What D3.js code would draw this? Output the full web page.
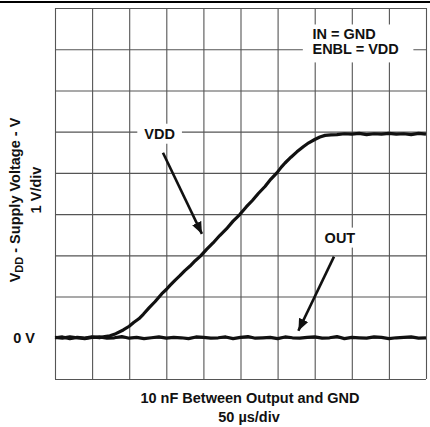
<!DOCTYPE html>
<html>
<head>
<meta charset="utf-8">
<script src="https://cdn.jsdelivr.net/npm/d3@7"></script>
<style>
  body { margin: 0; background: #fff; }
  text { font-family: "Liberation Sans", Arial, sans-serif; font-weight: bold; fill: #111; }
</style>
</head>
<body>
<svg id="chart" width="430" height="427"></svg>
<script>
// 50 us/div across, 1 V/div up
const timeTicks = [0, 50, 100, 150, 200, 250, 300, 350, 400, 450, 500];
const voltTicks = [-1, 0, 1, 2, 3, 4, 5, 6, 7, 8];

const vddTime = [0, 10, 20, 30, 40, 50, 60, 67, 74, 82, 92, 100, 106, 113, 119, 127, 135, 144, 150, 155,
                 162, 168, 175, 182, 189, 196, 204, 213, 222, 231, 240, 249, 258, 266, 274, 283, 291, 299,
                 305, 310, 318, 326, 335, 342, 350, 357, 364, 372, 380, 390, 400, 410, 420, 430, 440, 450,
                 460, 470, 480, 490, 500];
const vddVolts = [0.00, 0.02, -0.02, 0.01, -0.01, 0.02, 0.00, 0.03, 0.05, 0.10, 0.19, 0.28, 0.37, 0.46, 0.57,
                  0.73, 0.88, 1.07, 1.17, 1.27, 1.40, 1.50, 1.63, 1.74, 1.87, 1.98, 2.14, 2.30, 2.48, 2.64,
                  2.83, 2.99, 3.18, 3.33, 3.50, 3.67, 3.85, 4.00, 4.14, 4.24, 4.38, 4.51, 4.64, 4.73, 4.81,
                  4.87, 4.91, 4.92, 4.93, 4.95, 4.94, 4.96, 4.93, 4.95, 4.94, 4.96, 4.94, 4.95, 4.93, 4.96, 4.94];

const outTime = [0, 10, 20, 30, 40, 50, 60, 70, 80, 90, 100, 110, 120, 130, 140, 150, 160, 170, 180, 190,
                 200, 210, 220, 230, 240, 250, 260, 270, 280, 290, 300, 310, 320, 330, 340, 350, 360, 370,
                 380, 390, 400, 410, 420, 430, 440, 450, 460, 470, 480, 490, 500];
const outVolts = [0.01, -0.01, 0.02, 0.00, -0.02, 0.01, 0.02, -0.01, 0.00, 0.03, -0.01, 0.01, -0.02, 0.00,
                  0.02, -0.01, 0.01, 0.00, -0.02, 0.02, 0.01, -0.01, 0.00, 0.02, -0.02, 0.01, 0.03, -0.01,
                  0.00, 0.01, -0.02, 0.02, 0.00, -0.01, 0.01, 0.02, -0.01, 0.00, 0.03, -0.02, 0.01, 0.00,
                  -0.01, 0.02, 0.01, -0.02, 0.00, 0.01, 0.02, -0.01, 0.00];

const conditions = ["IN = GND", "ENBL = VDD"];

let zip = (xs, ys) => xs.map((x, i) => ({t: x, v: ys[i]}));

const svg = d3.select("#chart");
const m = {top: 8, left: 55, right: 4, bottom: 48};
const W = +svg.attr("width"), H = +svg.attr("height");
const fs = "14.5px";

const x = d3.scaleLinear().domain([0, 500]).range([m.left, W - m.right]);
const y = d3.scaleLinear().domain([-1, 8]).range([H - m.bottom, m.top]);

// rule across the top of the page
svg.append("line")
    .attr("x1", 0).attr("x2", W)
    .attr("y1", 2).attr("y2", 2)
    .attr("stroke", "#000").attr("stroke-width", 2);

// grid
svg.append("g")
    .attr("transform", `translate(0, ${y(-1)})`)
    .call(d3.axisBottom(x).tickValues(timeTicks).tickSize(-(y(-1) - y(8))).tickFormat(""))
    .call(g => g.select(".domain").remove())
    .selectAll("line").attr("stroke", "#555").attr("stroke-width", 1.1);

svg.append("g")
    .attr("transform", `translate(${x(0)}, 0)`)
    .call(d3.axisLeft(y).tickValues(voltTicks).tickSize(-(x(500) - x(0))).tickFormat(""))
    .call(g => g.select(".domain").remove())
    .selectAll("line").attr("stroke", "#555").attr("stroke-width", 1.1);

// traces
const line = d3.line().x(d => x(d.t)).y(d => y(d.v));

svg.append("path")
    .attr("d", line(zip(outTime, outVolts)))
    .attr("fill", "none").attr("stroke", "#111")
    .attr("stroke-width", 3.2).attr("stroke-linejoin", "round");

svg.append("path")
    .attr("d", line(zip(vddTime, vddVolts)))
    .attr("fill", "none").attr("stroke", "#111")
    .attr("stroke-width", 3.2).attr("stroke-linejoin", "round");

// arrows
svg.append("defs").append("marker")
    .attr("id", "head")
    .attr("markerUnits", "userSpaceOnUse")
    .attr("viewBox", "0 0 12 10")
    .attr("refX", 12).attr("refY", 5)
    .attr("markerWidth", 12).attr("markerHeight", 10)
    .attr("orient", "auto")
  .append("path")
    .attr("d", "M0,0 L12,5 L0,10 Z")
    .attr("fill", "#111");

let arrow = (t1, v1, t2, v2) => svg.append("line")
    .attr("x1", x(t1)).attr("y1", y(v1))
    .attr("x2", x(t2)).attr("y2", y(v2))
    .attr("stroke", "#111").attr("stroke-width", 2.6)
    .attr("marker-end", "url(#head)");

let label = (txt, t, v, pad) => {
    const g = svg.append("g");
    const tx = g.append("text")
	  .attr("x", x(t)).attr("y", y(v))
	  .attr("text-anchor", "middle")
	  .attr("dominant-baseline", "central")
	  .style("font-size", fs)
	  .text(txt);
    const b = tx.node().getBBox();
    g.insert("rect", "text")
	.attr("x", b.x - pad).attr("y", b.y - 2)
	.attr("width", b.width + 2 * pad).attr("height", b.height + 4)
	.attr("fill", "#fff");
};

label("VDD", 141, 4.95, 7);
arrow(145.5, 4.49, 198, 2.52);

label("OUT", 384, 2.43, 5);
arrow(376, 1.97, 328, 0.17);

// condition box
const cond = svg.append("g");
cond.append("rect")
    .attr("x", x(334)).attr("y", y(7.6))
    .attr("width", x(483) - x(334)).attr("height", y(6.68) - y(7.6))
    .attr("fill", "#fff");
cond.selectAll("text").data(conditions)
    .enter().append("text")
    .attr("x", x(347))
    .attr("y", (d, i) => y(7.24) + i * 14.5)
    .style("font-size", fs)
    .text(d => d);

// axis texts
svg.append("text")
    .attr("x", 35).attr("y", y(0))
    .attr("text-anchor", "end")
    .attr("dominant-baseline", "central")
    .style("font-size", fs)
    .text("0 V");

const yt = svg.append("text")
      .attr("transform", "translate(20, 200) rotate(-90)")
      .attr("text-anchor", "middle")
      .style("font-size", fs);
yt.append("tspan").text("V");
yt.append("tspan").attr("dy", 3).style("font-size", "11px").text("DD");
yt.append("tspan").attr("dy", -3).text(" - Supply Voltage - V");

svg.append("text")
    .attr("transform", "translate(41, 190) rotate(-90)")
    .attr("text-anchor", "middle")
    .style("font-size", fs)
    .text("1 V/div");

svg.append("text")
    .attr("x", 250).attr("y", 403)
    .attr("text-anchor", "middle")
    .style("font-size", fs)
    .text("10 nF Between Output and GND");

svg.append("text")
    .attr("x", 249).attr("y", 422)
    .attr("text-anchor", "middle")
    .style("font-size", fs)
    .text("50 \u00b5s/div");
</script>
</body>
</html>
